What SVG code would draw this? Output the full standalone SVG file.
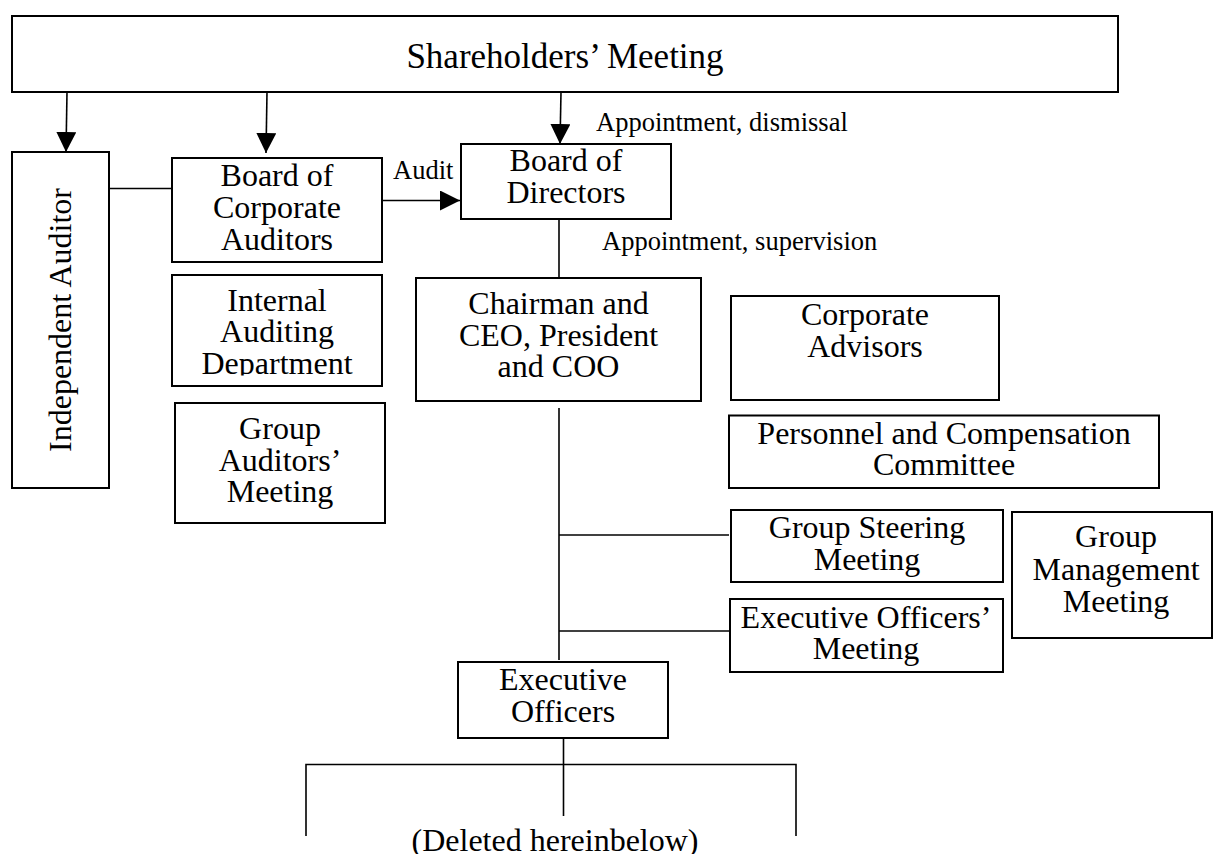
<svg xmlns="http://www.w3.org/2000/svg" width="1213" height="854" viewBox="0 0 1213 854">
  <style>
    .box { fill: #fff; stroke: #000; stroke-width: 2; }
    .lbl { font-family: "Liberation Serif", "Times New Roman", serif; font-size: 32px; fill: #000; text-anchor: middle; }
    .big { font-size: 35px; }
    .note { font-family: "Liberation Serif", "Times New Roman", serif; font-size: 26.5px; fill: #000; }
    .wire { fill: none; stroke: #000; stroke-width: 1.6; }
    .arrow { fill: none; stroke: #000; stroke-width: 1.6; marker-end: url(#head); }
  </style>
  <defs>
    <marker id="head" viewBox="0 0 20 20" markerWidth="20" markerHeight="20" refX="20" refY="10" orient="auto" markerUnits="userSpaceOnUse">
      <path d="M0,0 L20,10 L0,20 z" fill="#000"/>
    </marker>
    <clipPath id="iad-clip">
      <rect x="172" y="276" width="210" height="99.5"/>
    </clipPath>
  </defs>

  <rect width="1213" height="854" fill="#fff"/>

  <!-- connectors -->
  <g id="connectors">
    <path class="arrow" d="M67,92 L66,152"/>
    <path class="arrow" d="M267,92 L266,153"/>
    <path class="arrow" d="M561,92 L560,144"/>
    <path class="arrow" d="M382,200.5 L460,200.5"/>
    <path class="wire" d="M109,188.5 L172,188.5"/>
    <path class="wire" d="M559,219 L559,278"/>
    <path class="wire" d="M559,408 L559,660"/>
    <path class="wire" d="M559,535 L729,535"/>
    <path class="wire" d="M559,631 L730,631"/>
    <path class="wire" d="M563.5,738 L563.5,816"/>
    <path class="wire" d="M306,836 L306,764.5 L796,764.5 L796,836"/>
    <text class="note" x="393" y="178.5" font-size="26">Audit</text>
    <text class="note" x="596" y="130.5">Appointment, dismissal</text>
    <text class="note" x="602" y="250">Appointment, supervision</text>
  </g>

  <!-- top tier -->
  <g id="shareholders-meeting">
    <rect class="box" x="12" y="16" width="1106" height="76"/>
    <text class="lbl big" x="565" y="68.3">Shareholders’ Meeting</text>
  </g>

  <!-- audit side -->
  <g id="independent-auditor">
    <rect class="box" x="12" y="152" width="97" height="336"/>
    <text class="lbl" transform="translate(70.5,320) rotate(-90)">Independent Auditor</text>
  </g>

  <g id="board-of-corporate-auditors">
    <rect class="box" x="172" y="158" width="210" height="104"/>
    <text class="lbl" x="277" y="185.5">Board of</text>
    <text class="lbl" x="277" y="217.5">Corporate</text>
    <text class="lbl" x="277" y="249.5">Auditors</text>
  </g>

  <g id="internal-auditing-department">
    <rect class="box" x="172" y="275" width="210" height="111"/>
    <g clip-path="url(#iad-clip)">
      <text class="lbl" x="277" y="310.7">Internal</text>
      <text class="lbl" x="277" y="342.3">Auditing</text>
      <text class="lbl" x="277" y="374">Department</text>
    </g>
  </g>

  <g id="group-auditors-meeting">
    <rect class="box" x="175" y="403" width="210" height="120"/>
    <text class="lbl" x="280" y="439">Group</text>
    <text class="lbl" x="280" y="470.7">Auditors’</text>
    <text class="lbl" x="280" y="502.3">Meeting</text>
  </g>

  <!-- management side -->
  <g id="board-of-directors">
    <rect class="box" x="461" y="144" width="210" height="75"/>
    <text class="lbl" x="566" y="170.7">Board of</text>
    <text class="lbl" x="566" y="202.7">Directors</text>
  </g>

  <g id="chairman-ceo">
    <rect class="box" x="416" y="278" width="285" height="123"/>
    <text class="lbl" x="558.5" y="314">Chairman and</text>
    <text class="lbl" x="558.5" y="345.5">CEO, President</text>
    <text class="lbl" x="558.5" y="377">and COO</text>
  </g>

  <g id="corporate-advisors">
    <rect class="box" x="731" y="296" width="268" height="104"/>
    <text class="lbl" x="865" y="325">Corporate</text>
    <text class="lbl" x="865" y="357.3">Advisors</text>
  </g>

  <g id="personnel-compensation-committee">
    <rect class="box" x="729" y="415.5" width="430" height="72.5"/>
    <text class="lbl" x="944" y="444">Personnel and Compensation</text>
    <text class="lbl" x="944" y="474.7">Committee</text>
  </g>

  <g id="group-steering-meeting">
    <rect class="box" x="731" y="510" width="272" height="72"/>
    <text class="lbl" x="867" y="538">Group Steering</text>
    <text class="lbl" x="867" y="570">Meeting</text>
  </g>

  <g id="executive-officers-meeting">
    <rect class="box" x="730" y="599" width="273" height="73"/>
    <text class="lbl" x="866" y="628">Executive Officers’</text>
    <text class="lbl" x="866" y="659">Meeting</text>
  </g>

  <g id="group-management-meeting">
    <rect class="box" x="1012" y="512" width="200" height="126"/>
    <text class="lbl" x="1116" y="547.3">Group</text>
    <text class="lbl" x="1116" y="580">Management</text>
    <text class="lbl" x="1116" y="611.7">Meeting</text>
  </g>

  <g id="executive-officers">
    <rect class="box" x="458" y="662" width="210" height="76"/>
    <text class="lbl" x="563" y="690">Executive</text>
    <text class="lbl" x="563" y="722">Officers</text>
  </g>

  <g id="deleted-note">
    <text class="lbl" x="555" y="851">(Deleted hereinbelow)</text>
  </g>
</svg>
